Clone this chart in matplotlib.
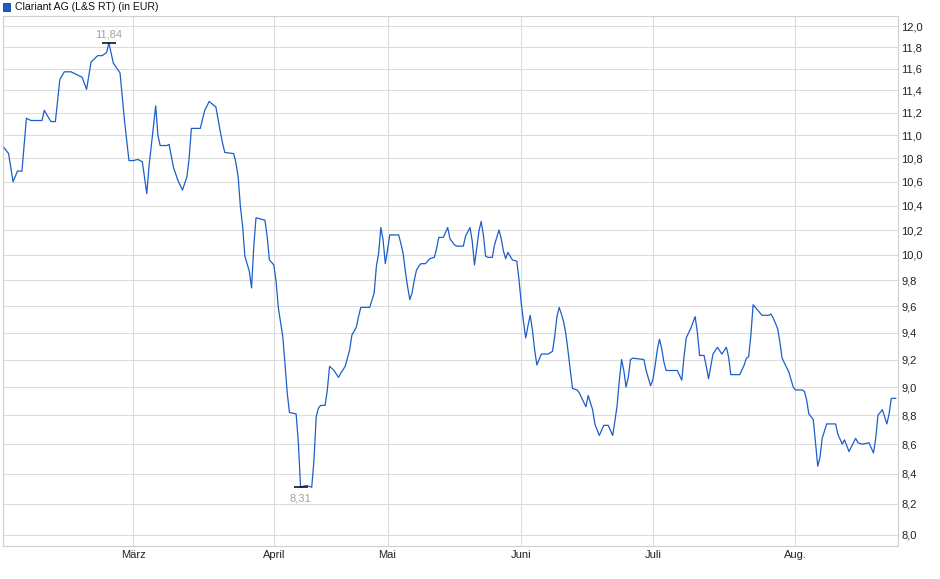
import matplotlib
matplotlib.use('Agg')
import matplotlib.pyplot as plt
from matplotlib.patches import Rectangle
from matplotlib.ticker import FixedLocator, NullLocator

plt.rcParams['font.family'] = ['Liberation Sans', 'DejaVu Sans']

title = 'Clariant AG (L&S RT) (in EUR)'

# session index and close price in EUR
session = [0, 2, 4, 6, 8, 10, 12, 17, 18, 21, 23, 25, 27, 30, 35, 37, 39, 42, 44, 46,
           47, 49, 51, 52, 54, 56, 58, 60, 62, 64, 65, 68, 69, 70, 73, 74, 76, 78, 80, 82,
           83, 84, 88, 90, 92, 95, 97, 98, 99, 103, 104, 105, 106, 107, 108, 110, 111, 112, 113, 117,
           118, 119, 121, 122, 123, 125, 126, 127, 128, 131, 132, 133, 135, 136, 138, 139, 140, 141, 142, 144,
           145, 146, 148, 150, 151, 153, 154, 155, 156, 158, 159, 160, 164, 166, 167, 168, 169, 170, 171, 172,
           173, 177, 178, 179, 180, 181, 182, 183, 184, 185, 186, 187, 189, 191, 193, 194, 195, 197, 199, 200,
           202, 203, 206, 207, 209, 210, 211, 212, 213, 214, 215, 216, 217, 219, 220, 222, 223, 224, 225, 226,
           227, 228, 230, 231, 232, 233, 234, 235, 236, 237, 238, 239, 240, 241, 244, 246, 247, 248, 249, 250,
           251, 252, 253, 254, 255, 257, 258, 261, 262, 264, 265, 267, 269, 271, 273, 274, 275, 276, 277, 278,
           279, 280, 281, 282, 287, 288, 290, 291, 292, 293, 294, 295, 296, 297, 302, 304, 305, 306, 308, 310,
           311, 312, 314, 315, 316, 317, 318, 320, 322, 324, 325, 326, 330, 332, 333, 334, 335, 336, 338, 340,
           343, 344, 345, 347, 348, 349, 352, 354, 355, 358, 359, 360, 361, 363, 364, 365, 366, 367, 369, 373,
           374, 376, 377, 378, 379, 382, 383, 385, 388, 390, 391, 392, 394, 396, 397, 398, 400]
close = [10.89, 10.84, 10.60, 10.69, 10.69, 11.15, 11.13, 11.13, 11.22, 11.12, 11.12, 11.50, 11.57, 11.57, 11.52, 11.41, 11.66, 11.72, 11.72, 11.75,
         11.84, 11.65, 11.59, 11.56, 11.13, 10.78, 10.78, 10.79, 10.77, 10.50, 10.73, 11.26, 11.00, 10.91, 10.91, 10.92, 10.72, 10.61, 10.53, 10.64,
         10.80, 11.06, 11.06, 11.22, 11.30, 11.25, 11.03, 10.93, 10.85, 10.84, 10.76, 10.64, 10.39, 10.23, 9.99, 9.87, 9.74, 10.07, 10.30, 10.28,
         10.15, 9.96, 9.92, 9.79, 9.59, 9.37, 9.17, 8.96, 8.82, 8.81, 8.61, 8.31, 8.32, 8.32, 8.31, 8.49, 8.79, 8.85, 8.87, 8.87,
         8.98, 9.15, 9.12, 9.07, 9.10, 9.15, 9.21, 9.27, 9.38, 9.44, 9.52, 9.59, 9.59, 9.70, 9.91, 10.01, 10.22, 10.12, 9.93, 10.04,
         10.16, 10.16, 10.09, 10.01, 9.87, 9.75, 9.65, 9.70, 9.80, 9.88, 9.91, 9.93, 9.93, 9.97, 9.98, 10.05, 10.14, 10.14, 10.22, 10.13,
         10.08, 10.07, 10.07, 10.15, 10.22, 10.11, 9.92, 10.05, 10.19, 10.27, 10.16, 9.99, 9.98, 9.98, 10.08, 10.20, 10.13, 10.03, 9.97, 10.02,
         9.99, 9.96, 9.95, 9.80, 9.62, 9.48, 9.36, 9.45, 9.53, 9.42, 9.27, 9.16, 9.20, 9.24, 9.24, 9.26, 9.37, 9.52, 9.59, 9.54,
         9.48, 9.39, 9.26, 9.12, 8.99, 8.98, 8.96, 8.86, 8.94, 8.84, 8.74, 8.66, 8.73, 8.73, 8.66, 8.76, 8.87, 9.05, 9.20, 9.12,
         9.00, 9.07, 9.20, 9.21, 9.20, 9.12, 9.01, 9.05, 9.15, 9.27, 9.35, 9.28, 9.18, 9.12, 9.12, 9.05, 9.22, 9.36, 9.43, 9.52,
         9.40, 9.23, 9.23, 9.15, 9.06, 9.15, 9.24, 9.29, 9.24, 9.29, 9.22, 9.09, 9.09, 9.16, 9.21, 9.22, 9.38, 9.61, 9.57, 9.53,
         9.53, 9.54, 9.51, 9.43, 9.33, 9.21, 9.11, 9.00, 8.98, 8.98, 8.97, 8.91, 8.81, 8.77, 8.61, 8.45, 8.51, 8.64, 8.74, 8.74,
         8.67, 8.60, 8.63, 8.59, 8.55, 8.64, 8.61, 8.60, 8.61, 8.54, 8.64, 8.80, 8.84, 8.74, 8.81, 8.92, 8.92]

months = ['März', 'April', 'Mai', 'Juni', 'Juli', 'Aug.']
month_start = [58, 121, 172, 232, 291, 355]
price_ticks = [8.0, 8.2, 8.4, 8.6, 8.8, 9.0, 9.2, 9.4, 9.6, 9.8, 10.0,
               10.2, 10.4, 10.6, 10.8, 11.0, 11.2, 11.4, 11.6, 11.8, 12.0]

line_col = '#1d5ec9'
grid_col = '#dddddd'
note_col = '#a9a196'

fig = plt.figure(figsize=(9.4, 5.79), dpi=100)
ax = fig.add_axes([3 / 940, 33 / 579, 895 / 940, 530 / 579])

ax.plot(session, close, color=line_col, lw=0.9, zorder=3)

ax.set_yscale('log')
ax.set_ylim(7.93, 12.096)
ax.set_xlim(-0.5, 401)

ax.yaxis.tick_right()
ax.yaxis.set_major_locator(FixedLocator(price_ticks))
ax.yaxis.set_minor_locator(NullLocator())
ax.set_yticklabels([f'{v:.1f}'.replace('.', ',') for v in price_ticks])
ax.set_xticks(month_start)
ax.set_xticklabels(months)
ax.tick_params(axis='y', length=0, labelsize=8, pad=2.5, labelcolor='#222222')
ax.tick_params(axis='x', length=0, labelsize=8, pad=3, labelcolor='#222222')

ax.grid(True, color=grid_col, lw=0.8, zorder=0)
for sp in ax.spines.values():
    sp.set_color('#cfcfcf')
    sp.set_linewidth(0.8)

# high / low markers
hi = close.index(max(close))
lo = close.index(min(close))
ax.plot([session[hi]], [close[hi]], marker='_', ms=10, mew=1.1, color='black', zorder=4)
ax.plot([session[lo]], [close[lo]], marker='_', ms=10, mew=1.1, color='black', zorder=4)
ax.annotate(f'{close[hi]:.2f}'.replace('.', ','), (session[hi], close[hi]),
            xytext=(0, 8), textcoords='offset pixels', ha='center', va='center',
            fontsize=8, color=note_col)
ax.annotate(f'{close[lo]:.2f}'.replace('.', ','), (session[lo], close[lo]),
            xytext=(0, -11), textcoords='offset pixels', ha='center', va='center',
            fontsize=8, color=note_col)

# legend box
fig.patches.append(Rectangle((3 / 940, 1 - 11 / 579), 7 / 940, 8 / 579, transform=fig.transFigure,
                             facecolor=line_col, edgecolor='#163e84', lw=0.6))
fig.text(15 / 940, 1 - 6.5 / 579, title, fontsize=7.6, va='center', ha='left', color='#111111')

fig.savefig('out.png', dpi=100)
